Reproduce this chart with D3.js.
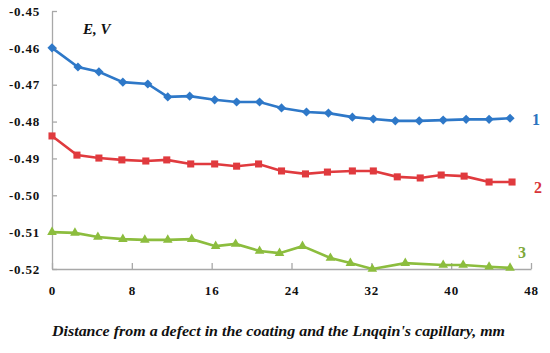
<!DOCTYPE html>
<html lang="en">
<head>
<meta charset="UTF-8">
<script src="https://d3js.org/d3.v7.min.js"></script>
<title>Potential vs distance</title>
<style>
  body { margin: 0; background: #fff; }
  svg text { font-family: "Liberation Serif", "Times New Roman", "DejaVu Serif", serif; }
</style>
</head>
<body>
<svg id="chart" width="550" height="353"></svg>
<script>
// distance (mm) and potential (V) for the three curves
const dist1 = [0, 2.6, 4.7, 7.1, 9.6, 11.6, 13.8, 16.3, 18.5, 20.8, 23.0, 25.5, 27.7, 30.1, 32.2, 34.4, 36.8, 39.2, 41.5, 43.8, 45.9];
const pot1 = [-0.4600, -0.4652, -0.4665, -0.4693, -0.4698, -0.4733, -0.4731, -0.4741, -0.4747, -0.4747, -0.4763, -0.4774, -0.4777, -0.4788, -0.4793, -0.4798, -0.4798, -0.4796, -0.4794, -0.4794, -0.4791];

const dist2 = [0, 2.5, 4.7, 7.0, 9.4, 11.5, 13.9, 16.3, 18.5, 20.7, 23.0, 25.4, 27.6, 30.1, 32.2, 34.6, 36.9, 39.0, 41.3, 43.8, 46.1];
const pot2 = [-0.4839, -0.4891, -0.4899, -0.4904, -0.4907, -0.4904, -0.4915, -0.4915, -0.4921, -0.4915, -0.4934, -0.4942, -0.4937, -0.4934, -0.4934, -0.4950, -0.4953, -0.4945, -0.4948, -0.4964, -0.4964];

const dist3 = [0, 2.3, 4.6, 7.1, 9.3, 11.6, 14.0, 16.4, 18.4, 20.8, 22.8, 25.1, 27.9, 29.9, 32.1, 35.4, 39.2, 41.2, 43.8, 45.9];
const pot3 = [-0.5100, -0.5102, -0.5113, -0.5119, -0.5121, -0.5121, -0.5119, -0.5138, -0.5132, -0.5151, -0.5157, -0.5138, -0.5170, -0.5184, -0.5200, -0.5184, -0.5189, -0.5189, -0.5194, -0.5197];

const xTicks = [0, 8, 16, 24, 32, 40, 48];
const yTicks = [-0.52, -0.51, -0.50, -0.49, -0.48, -0.47, -0.46, -0.45];
const seriesNames = ["1", "2", "3"];

const svg = d3.select("#chart");
const margin = { top: 11, right: 19, bottom: 84, left: 52 };
const width = +svg.attr("width") - margin.left - margin.right;
const height = +svg.attr("height") - margin.top - margin.bottom;

const x = d3.scaleLinear().domain([0, 48]).range([0, width]);
const y = d3.scaleLinear().domain([-0.52, -0.45]).range([height, 0]);

const g = svg.append("g")
    .attr("transform", "translate(" + margin.left + "," + margin.top + ")");

// axes (ticks pointing inwards like Excel)
const xAxis = g.append("g")
    .attr("transform", "translate(0," + height + ")")
    .call(d3.axisBottom(x).tickValues(xTicks).tickSizeInner(-6).tickSizeOuter(0).tickPadding(17));

const yAxis = g.append("g")
    .call(d3.axisLeft(y).tickValues(yTicks).tickSizeInner(-5).tickSizeOuter(0).tickPadding(12)
        .tickFormat(d => d.toFixed(2)));

[xAxis, yAxis].forEach(a => {
    a.attr("font-family", null);
    a.select(".domain").attr("stroke", "#a8a8a8").attr("stroke-width", 1.3);
    a.selectAll(".tick line").attr("stroke", "#a8a8a8").attr("stroke-width", 1.3);
    a.selectAll("text")
        .style("font-weight", "bold")
        .style("font-size", "13px")
        .attr("letter-spacing", 0.8)
        .attr("fill", "#111");
});

const series = [
    { xs: dist1, ys: pot1, color: "#2e78c8", shape: "diamond" },
    { xs: dist2, ys: pot2, color: "#e03a3e", shape: "square" },
    { xs: dist3, ys: pot3, color: "#8cbd3e", shape: "triangle" }
];

const line = d3.line().x(d => x(d[0])).y(d => y(d[1]));

series.forEach(s => {
    const pts = s.xs.map((v, i) => [v, s.ys[i]]);
    g.append("path")
        .datum(pts)
        .attr("fill", "none")
        .attr("stroke", s.color)
        .attr("stroke-width", 2.6)
        .attr("d", line);

    let sym, rot = 0;
    if (s.shape === "diamond") { sym = d3.symbol(d3.symbolSquare, 42); rot = 45; }
    else if (s.shape === "square") { sym = d3.symbol(d3.symbolSquare, 50); }
    else { sym = d3.symbol(d3.symbolTriangle, 40); }

    g.selectAll(null)
        .data(pts)
        .enter().append("path")
        .attr("d", sym)
        .attr("transform", d => "translate(" + x(d[0]) + "," + y(d[1]) + ") rotate(" + rot + ")")
        .attr("fill", s.color);
});

// curve numbers
const labelPos = [
    { dx: 48.5, v: -0.4808, color: "#2a74c0" },
    { dx: 48.7, v: -0.4994, color: "#d8343a" },
    { dx: 47.1, v: -0.5170, color: "#7ea83a" }
];
labelPos.forEach((p, i) => {
    g.append("text")
        .attr("x", x(p.dx))
        .attr("y", y(p.v))
        .style("font-weight", "bold")
        .style("font-size", "16px")
        .attr("fill", p.color)
        .attr("text-anchor", "middle")
        .text(seriesNames[i]);
});

// axis titles
svg.append("text")
    .attr("x", 83)
    .attr("y", 34)
    .style("font-weight", "bold")
    .style("font-style", "italic")
    .style("font-size", "15px")
    .attr("fill", "#111")
    .text("E, V");

svg.append("text")
    .attr("x", 52)
    .attr("y", 336)
    .style("font-weight", "bold")
    .style("font-style", "italic")
    .style("font-size", "14px")
    .attr("fill", "#111")
    .attr("textLength", 453)
    .attr("lengthAdjust", "spacingAndGlyphs")
    .text("Distance from a defect in the coating and the Lnqqin's capillary, mm");
</script>
</body>
</html>
